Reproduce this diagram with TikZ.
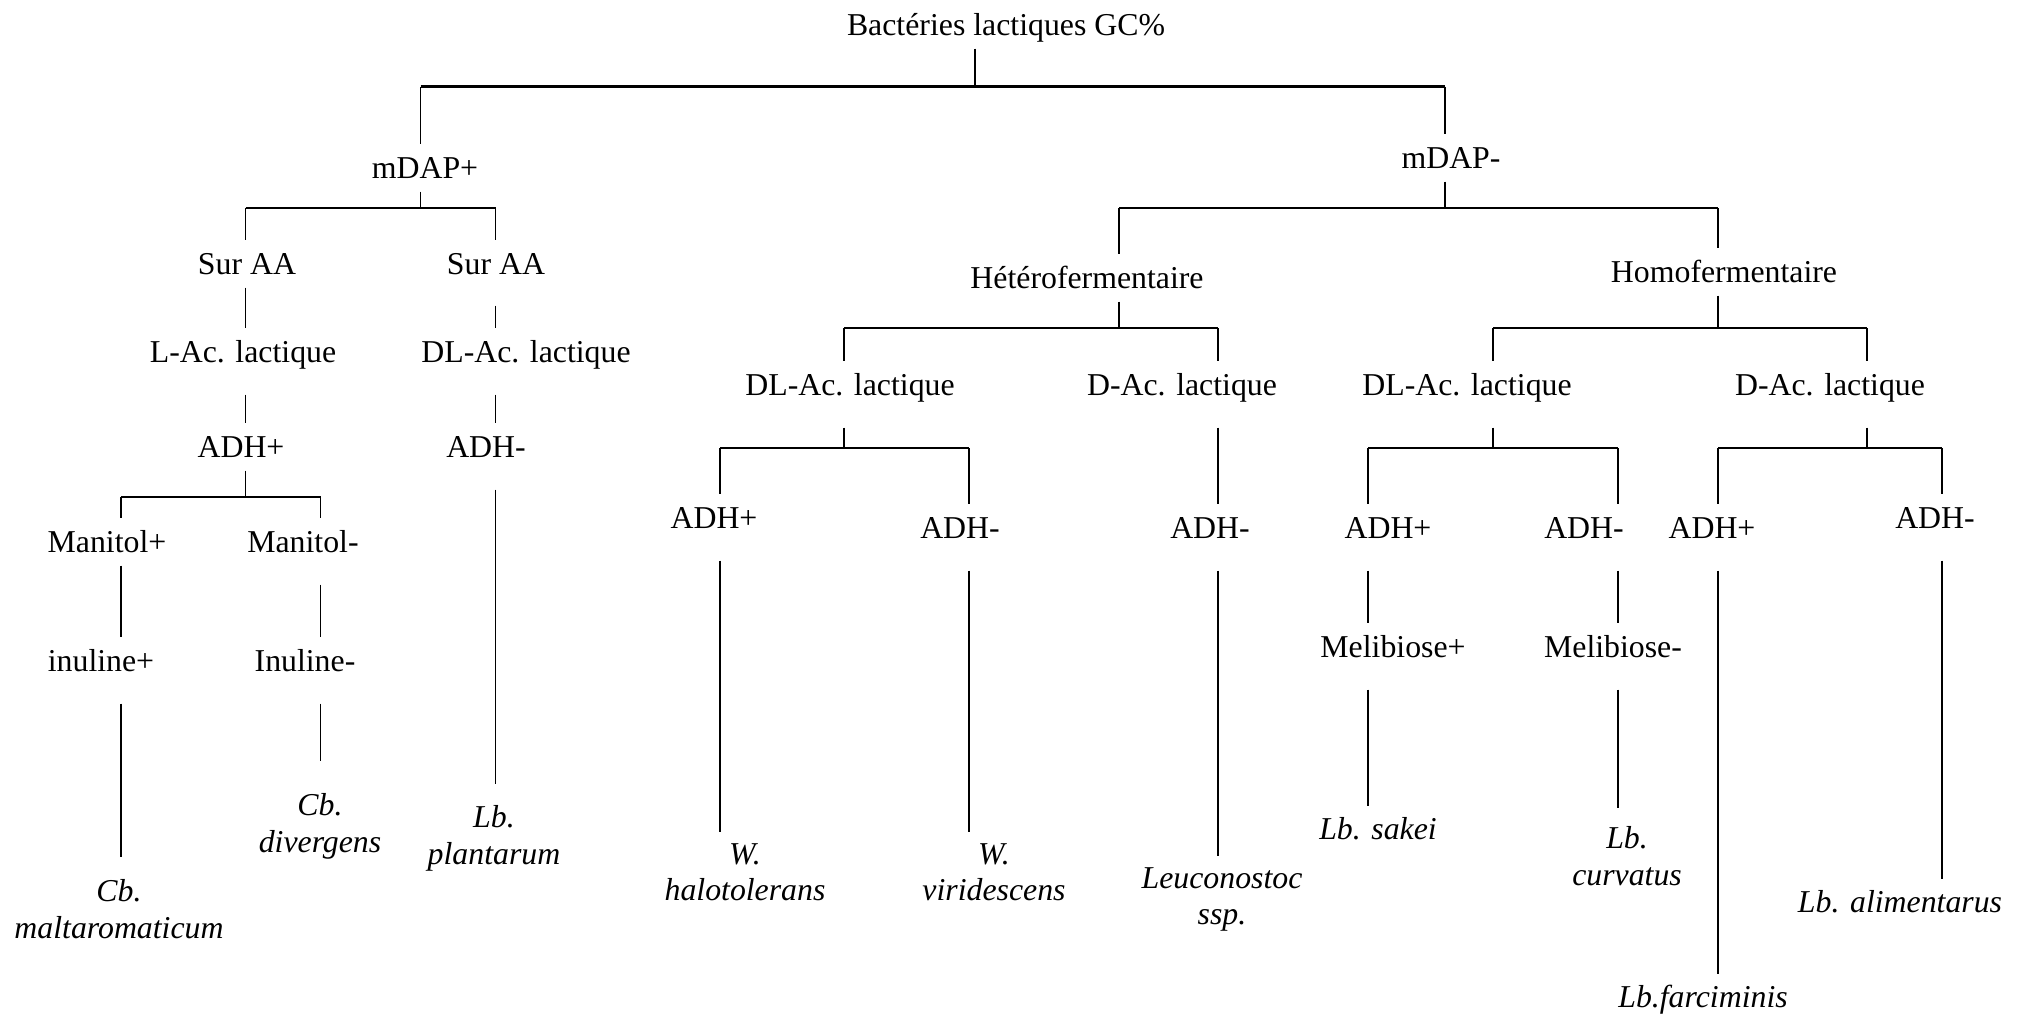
\documentclass[tikz,border=0pt]{standalone}
\usepackage{fontspec}
\setmainfont{Liberation Serif}

\newcommand{\treefont}{\fontsize{9.05pt}{10.4pt}\selectfont}

\tikzset{
  crit/.style={anchor=base, font=\treefont, inner xsep=0pt, inner ysep=0.5mm,
    text height=2.8mm, text depth=0.8mm},
  critl/.style={crit, text depth=2.7mm},
  leaf/.style={anchor=north, font=\treefont\itshape, align=center,
    inner xsep=0pt, inner ysep=1.05mm},
  twig/.style={line width=0.45pt},
  bar/.style={line width=0.7pt}
}

\begin{document}
\begin{tikzpicture}[x=0.1mm, y=-0.1mm]
    \useasboundingbox (0,0) rectangle (2025,1017);

    % Root and first split
    \node[crit] (root) at (1006,35) {Bactéries lactiques GC\%};
    \node[crit] (mdapP) at (425,178) {mDAP+};
    \node[crit] (mdapM) at (1451,168) {mDAP-};
    \coordinate (tL) at (420.5,86.5);
    \coordinate (tM) at (975,86.5);
    \coordinate (tR) at (1445,86.5);
    \draw[bar] (tL) -- (tR);
    \draw[twig] (root.south -| tM) -- (tM);
    \draw[twig] (tL) -- (mdapP.north -| tL);
    \draw[twig] (tR) -- (mdapM.north -| tR);

    % mDAP+ branch
    \node[crit] (surL) at (247,274) {Sur AA};
    \node[crit, text depth=2.6mm] (surR) at (496,274) {Sur AA};
    \coordinate (pL) at (245.5,208);
    \coordinate (pM) at (420.5,208);
    \coordinate (pR) at (495.5,208);
    \draw[bar] (pL) -- (pR);
    \draw[twig] (mdapP.south -| pM) -- (pM);
    \draw[twig] (pL) -- (surL.north -| pL);
    \draw[twig] (pR) -- (surR.north -| pR);

    \node[critl] (lacL) at (243,362) {L-Ac. lactique};
    \node[crit] (adhL) at (241,457) {ADH+};
    \draw[twig] (surL.south -| pL) -- (lacL.north -| pL);
    \draw[twig] (lacL.south -| pL) -- (adhL.north -| pL);

    \node[critl] (lacR) at (526,362) {DL-Ac. lactique};
    \node[critl] (adhR) at (486,457) {ADH-};
    \node[leaf, inner ysep=2.1mm] (plant) at (494,784) {Lb.\\plantarum};
    \draw[twig] (surR.south -| pR) -- (lacR.north -| pR);
    \draw[twig] (lacR.south -| pR) -- (adhR.north -| pR);
    \draw[twig] (adhR.south -| pR) -- (plant.north -| pR);

    % Manitol split under ADH+
    \node[crit] (manP) at (107,552) {Manitol+};
    \node[critl] (manM) at (303,552) {Manitol-};
    \coordinate (aL) at (121,497);
    \coordinate (aM) at (245.5,497);
    \coordinate (aR) at (320.5,497);
    \draw[bar] (aL) -- (aR);
    \draw[twig] (adhL.south -| aM) -- (aM);
    \draw[twig] (aL) -- (manP.north -| aL);
    \draw[twig] (aR) -- (manM.north -| aR);

    \node[critl] (inuP) at (101,671) {inuline+};
    \node[critl] (inuM) at (305,671) {Inuline-};
    \node[leaf, inner ysep=2.2mm] (malt) at (119,857) {Cb.\\maltaromaticum};
    \node[leaf, inner ysep=3.2mm] (diverg) at (320,761) {Cb.\\divergens};
    \draw[twig] (manP.south -| aL) -- (inuP.north -| aL);
    \draw[twig] (inuP.south -| aL) -- (malt.north -| aL);
    \draw[twig] (manM.south -| aR) -- (inuM.north -| aR);
    \draw[twig] (inuM.south -| aR) -- (diverg.north -| aR);

    % mDAP- branch
    \node[crit] (hetero) at (1087,288) {Hétérofermentaire};
    \node[crit] (homo) at (1724,282) {Homofermentaire};
    \coordinate (mL) at (1119,208);
    \coordinate (mM) at (1445,208);
    \coordinate (mR) at (1718,208);
    \draw[bar] (mL) -- (mR);
    \draw[twig] (mdapM.south -| mM) -- (mM);
    \draw[twig] (mL) -- (hetero.north -| mL);
    \draw[twig] (mR) -- (homo.north -| mR);

    % Heterofermentative side
    \node[critl] (dlHet) at (850,395) {DL-Ac. lactique};
    \node[critl] (dHet) at (1182,395) {D-Ac. lactique};
    \coordinate (hL) at (844,328);
    \coordinate (hM) at (1119,328);
    \coordinate (hR) at (1218,328);
    \draw[bar] (hL) -- (hR);
    \draw[twig] (hetero.south -| hM) -- (hM);
    \draw[twig] (hL) -- (dlHet.north -| hL);
    \draw[twig] (hR) -- (dHet.north -| hR);

    \node[critl] (adhHp) at (714,528) {ADH+};
    \node[critl] (adhHm) at (960,538) {ADH-};
    \coordinate (dhL) at (720,448);
    \coordinate (dhM) at (844,448);
    \coordinate (dhR) at (969,448);
    \draw[bar] (dhL) -- (dhR);
    \draw[twig] (dlHet.south -| dhM) -- (dhM);
    \draw[twig] (dhL) -- (adhHp.north -| dhL);
    \draw[twig] (dhR) -- (adhHm.north -| dhR);

    \node[critl] (adhHd) at (1210,538) {ADH-};
    \draw[twig] (dHet.south -| hR) -- (adhHd.north -| hR);

    \node[leaf] (halo) at (745,832) {W.\\halotolerans};
    \node[leaf] (virid) at (994,832) {W.\\viridescens};
    \node[leaf] (leuco) at (1222,856) {Leuconostoc\\ssp.};
    \draw[twig] (adhHp.south -| dhL) -- (halo.north -| dhL);
    \draw[twig] (adhHm.south -| dhR) -- (virid.north -| dhR);
    \draw[twig] (adhHd.south -| hR) -- (leuco.north -| hR);

    % Homofermentative side
    \node[critl] (dlHom) at (1467,395) {DL-Ac. lactique};
    \node[critl] (dHom) at (1830,395) {D-Ac. lactique};
    \coordinate (oL) at (1493,328);
    \coordinate (oM) at (1718,328);
    \coordinate (oR) at (1867,328);
    \draw[bar] (oL) -- (oR);
    \draw[twig] (homo.south -| oM) -- (oM);
    \draw[twig] (oL) -- (dlHom.north -| oL);
    \draw[twig] (oR) -- (dHom.north -| oR);

    \node[critl] (adhOp) at (1388,538) {ADH+};
    \node[critl] (adhOm) at (1584,538) {ADH-};
    \coordinate (lL) at (1368,448);
    \coordinate (lM) at (1493,448);
    \coordinate (lR) at (1618,448);
    \draw[bar] (lL) -- (lR);
    \draw[twig] (dlHom.south -| lM) -- (lM);
    \draw[twig] (lL) -- (adhOp.north -| lL);
    \draw[twig] (lR) -- (adhOm.north -| lR);

    \node[critl] (adhDp) at (1712,538) {ADH+};
    \node[critl] (adhDm) at (1935,528) {ADH-};
    \coordinate (rL) at (1718,448);
    \coordinate (rM) at (1867,448);
    \coordinate (rR) at (1942,448);
    \draw[bar] (rL) -- (rR);
    \draw[twig] (dHom.south -| rM) -- (rM);
    \draw[twig] (rL) -- (adhDp.north -| rL);
    \draw[twig] (rR) -- (adhDm.north -| rR);

    % Melibiose tests and species
    \node[critl] (melP) at (1393,657) {Melibiose+};
    \node[critl] (melM) at (1613,657) {Melibiose-};
    \draw[twig] (adhOp.south -| lL) -- (melP.north -| lL);
    \draw[twig] (adhOm.south -| lR) -- (melM.north -| lR);

    \node[leaf] (sakei) at (1378,806) {Lb. sakei};
    \node[leaf, inner ysep=1.8mm] (curv) at (1627,808) {Lb.\\curvatus};
    \node[leaf] (farc) at (1703,974) {Lb.farciminis};
    \node[leaf] (alim) at (1900,879) {Lb. alimentarus};
    \draw[twig] (melP.south -| lL) -- (sakei.north -| lL);
    \draw[twig] (melM.south -| lR) -- (curv.north -| lR);
    \draw[twig] (adhDp.south -| rL) -- (farc.north -| rL);
    \draw[twig] (adhDm.south -| rR) -- (alim.north -| rR);
\end{tikzpicture}
\end{document}
